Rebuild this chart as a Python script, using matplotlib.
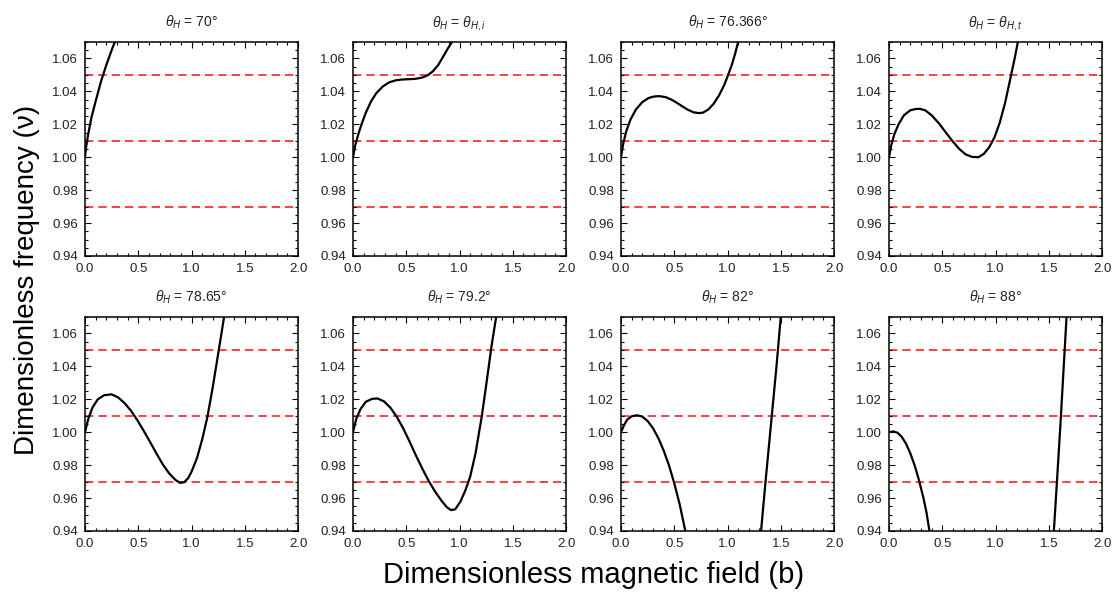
import numpy
from matplotlib import pyplot
from matplotlib.ticker import MultipleLocator

pyplot.rcParams['font.family'] = ['Liberation Sans', 'DejaVu Sans']
pyplot.rcParams['mathtext.fontset'] = 'custom'
pyplot.rcParams['mathtext.rm'] = 'Liberation Sans'
pyplot.rcParams['mathtext.it'] = 'Liberation Sans:italic'

nan = numpy.nan

titles = [r"$\theta_H$ = 70°", r"$\theta_H$ = $\theta_{H,i}$",
          r"$\theta_H$ = 76.366°", r"$\theta_H$ = $\theta_{H,t}$",
          r"$\theta_H$ = 78.65°", r"$\theta_H$ = 79.2°",
          r"$\theta_H$ = 82°", r"$\theta_H$ = 88°"]

# threshold levels (red dashed lines)
levels = [1.05, 1.01, 0.97]

# curves (nan separates branches)
b_70 = [0.0, 0.01, 0.03, 0.06, 0.10, 0.15, 0.20, 0.25, 0.28]
v_70 = [1.000, 1.006, 1.014, 1.024, 1.034, 1.046, 1.056, 1.065, 1.070]

b_i = [0.0, 0.02, 0.05, 0.08, 0.12, 0.17, 0.22, 0.28, 0.34, 0.40, 0.46,
       0.52, 0.58, 0.64, 0.70, 0.75, 0.80, 0.85, 0.89, 0.93]
v_i = [1.000, 1.007, 1.014, 1.020, 1.027, 1.034, 1.039, 1.0430, 1.0455,
       1.0467, 1.0472, 1.0474, 1.0476, 1.0482, 1.0497, 1.0522, 1.0560,
       1.0615, 1.0660, 1.0700]

b_76 = [0.0, 0.02, 0.05, 0.09, 0.14, 0.20, 0.26, 0.31, 0.36, 0.42, 0.48,
        0.55, 0.62, 0.68, 0.73, 0.77, 0.82, 0.87, 0.92, 0.97, 1.00, 1.04,
        1.07, 1.10]
v_76 = [1.000, 1.008, 1.016, 1.023, 1.029, 1.0335, 1.0360, 1.0369, 1.0371,
        1.0365, 1.0348, 1.0320, 1.0291, 1.0273, 1.0268, 1.0271, 1.0290,
        1.0325, 1.0375, 1.0440, 1.0490, 1.0560, 1.0625, 1.0700]

b_t = [0.0, 0.02, 0.05, 0.09, 0.14, 0.20, 0.25, 0.29, 0.34, 0.40, 0.47,
       0.54, 0.60, 0.66, 0.72, 0.78, 0.84, 0.89, 0.94, 0.99, 1.04, 1.09,
       1.14, 1.18, 1.21]
v_t = [1.000, 1.007, 1.014, 1.020, 1.0255, 1.0285, 1.0293, 1.0294, 1.0285,
       1.0255, 1.0205, 1.0145, 1.0095, 1.0050, 1.0017, 1.0002, 1.0000,
       1.0020, 1.0060, 1.0120, 1.0210, 1.0330, 1.0480, 1.0600, 1.0700]

b_78 = [0.0, 0.03, 0.07, 0.12, 0.18, 0.25, 0.31, 0.37, 0.43, 0.49, 0.55,
        0.61, 0.67, 0.73, 0.79, 0.85, 0.89, 0.93, 0.97, 1.00, 1.05, 1.10,
        1.15, 1.20, 1.25, 1.306]
v_78 = [1.000, 1.008, 1.015, 1.020, 1.0225, 1.0230, 1.0212, 1.0178,
        1.0132, 1.0075, 1.0010, 0.9942, 0.9872, 0.9805, 0.9750, 0.9710,
        0.9693, 0.9696, 0.9722, 0.9760, 0.9840, 0.9955, 1.0095, 1.0275,
        1.0475, 1.0700]

b_79 = [0.0, 0.03, 0.07, 0.12, 0.18, 0.23, 0.29, 0.35, 0.41, 0.47, 0.53,
        0.59, 0.65, 0.71, 0.77, 0.83, 0.88, 0.92, 0.96, 1.01, 1.06, 1.10,
        1.15, 1.21, 1.26, 1.30, 1.344]
v_79 = [1.000, 1.008, 1.014, 1.0185, 1.0203, 1.0205, 1.0188, 1.0150,
        1.0095, 1.0025, 0.9945, 0.9860, 0.9780, 0.9705, 0.9640, 0.9585,
        0.9545, 0.9527, 0.9532, 0.9580, 0.9655, 0.9730, 0.9870, 1.0100,
        1.0330, 1.0520, 1.0700]

b_82 = [0.0, 0.03, 0.06, 0.10, 0.15, 0.20, 0.25, 0.30, 0.35, 0.40, 0.45,
        0.50, 0.55, 0.604, nan, 1.315, 1.36, 1.41, 1.46, 1.50]
v_82 = [1.000, 1.0045, 1.0078, 1.0097, 1.0103, 1.0095, 1.0068, 1.0025,
        0.9965, 0.9890, 0.9800, 0.9690, 0.9565, 0.9400, nan, 0.9400, 0.9720,
        1.0060, 1.0400, 1.0700]

b_88 = [0.0, 0.04, 0.08, 0.12, 0.16, 0.20, 0.24, 0.28, 0.32, 0.35, 0.38,
        nan, 1.548, 1.575, 1.61, 1.667]
v_88 = [1.000, 1.0005, 0.9997, 0.9972, 0.9930, 0.9872, 0.9800, 0.9712,
        0.9610, 0.9520, 0.9400, nan, 0.9400, 0.9680, 1.0050, 1.0700]

bs = [b_70, b_i, b_76, b_t, b_78, b_79, b_82, b_88]
vs = [v_70, v_i, v_76, v_t, v_78, v_79, v_82, v_88]

fig = pyplot.figure(figsize=(11.15, 5.93), dpi=100)

W = 1115.0
H = 593.0
lefts = [85, 353, 621, 889]
tops = [42, 317]
pw, ph = 213, 214
txt = '#222222'

for k in range(8):
    r, c = divmod(k, 4)
    ax = fig.add_axes([lefts[c] / W, 1 - (tops[r] + ph) / H, pw / W, ph / H])

    for lv in levels:
        ax.axhline(lv, color='#ff2020', lw=1.2, ls=(0, (5, 3)), zorder=1)
    ax.plot(bs[k], vs[k], color='black', lw=1.6, zorder=2)

    ax.set_xlim(0, 2)
    ax.set_ylim(0.94, 1.07)
    ax.xaxis.set_major_locator(MultipleLocator(0.5))
    ax.xaxis.set_minor_locator(MultipleLocator(0.1))
    ax.yaxis.set_major_locator(MultipleLocator(0.02))
    ax.yaxis.set_minor_locator(MultipleLocator(0.005))
    ax.xaxis.set_major_formatter('{x:.1f}')
    ax.yaxis.set_major_formatter('{x:.2f}')
    ax.tick_params(which='both', direction='in', top=True, right=True,
                   width=0.8, labelsize=9.5, labelcolor=txt)
    ax.tick_params(which='major', length=4)
    ax.tick_params(which='minor', length=2)
    ax.tick_params(axis='y', pad=5)
    ax.tick_params(axis='x', pad=5)
    for s in ax.spines.values():
        s.set_linewidth(1.1)

    ax.set_title(titles[k], fontsize=10, pad=11, color=txt)

fig.text(0.024, 1 - 280 / H, "Dimensionless frequency (ν)", rotation=90,
         fontsize=20, ha='center', va='center')
fig.text(594 / W, 1 - 575 / H, "Dimensionless magnetic field (b)",
         fontsize=21, ha='center', va='center')

pyplot.savefig('out.png', dpi=100)
